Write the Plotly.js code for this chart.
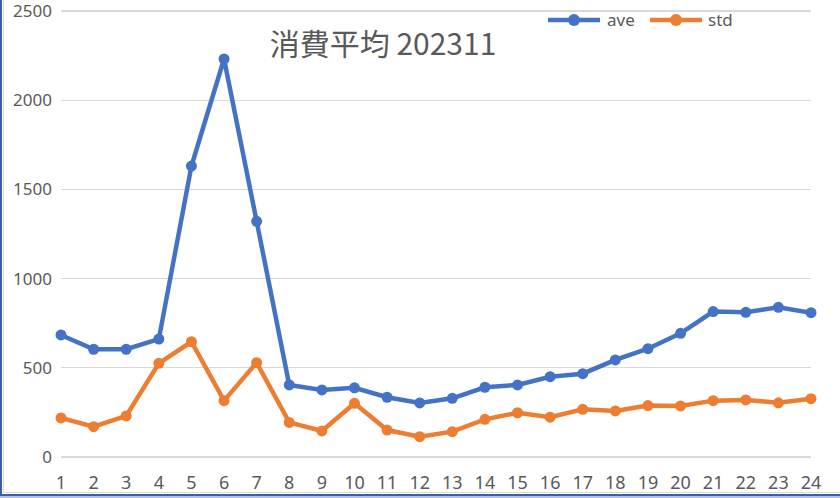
<!DOCTYPE html>
<html>
<head>
<meta charset="utf-8">
<script src="https://cdn.plot.ly/plotly-3.0.1.min.js"></script>
<style>
  html, body { margin: 0; padding: 0; background: #fff; }
  #wrap { position: relative; width: 840px; height: 498px; overflow: hidden; }
  #chart { position: absolute; left: 0; top: 0; width: 840px; height: 498px; }
  .edge { position: absolute; }
</style>
</head>
<body>
<div id="wrap">
  <div id="chart"></div>
  <div class="edge" style="left:0;top:0;width:2px;height:498px;background:#3B5EA6;"></div>
  <div class="edge" style="left:3px;top:0;width:1px;height:492px;background:#D9D9D9;"></div>
  <div class="edge" style="left:3px;top:492px;width:837px;height:1px;background:#D9D9D9;"></div>
  <div class="edge" style="left:0;top:494px;width:840px;height:2px;background:#3B5EA6;"></div>
  <div class="edge" style="left:0;top:496px;width:840px;height:2px;background:#AFC3E6;"></div>
</div>
<script>
const days = [1,2,3,4,5,6,7,8,9,10,11,12,13,14,15,16,17,18,19,20,21,22,23,24];
const aveValues = [684,604,604,661,1631,2231,1321,404,376,388,335,303,329,391,404,450,467,544,607,693,815,811,839,809];
const stdValues = [219,170,230,525,646,316,529,194,146,301,151,114,142,211,248,223,267,258,288,286,316,320,304,327];
const seriesNames = ['ave','std'];
const seriesColors = ['#4472C4','#ED7D31'];
const titleText = '消費平均 202311';
const yTicks = [0,500,1000,1500,2000,2500];

const traces = [aveValues, stdValues].map((vals, i) => ({
  type: 'scatter',
  mode: 'lines+markers',
  x: days,
  y: vals,
  name: seriesNames[i],
  line: { color: seriesColors[i], width: 4.5 },
  marker: { color: seriesColors[i], size: 11 },
  cliponaxis: false,
  showlegend: false,
  hoverinfo: 'x+y'
}));

// plot area: x 61..811, y 9..459 (2px vertical pad)
const L = 61, W = 750, B = 459, H = 450;
const px = v => (v - L) / W;
const py = v => (B - v) / H;
const legendItems = [
  { x0: 548, x1: 600, tx: 605 },
  { x0: 650, x1: 702, tx: 706 }
];
const shapes = [];
const annotations = [];
legendItems.forEach((it, i) => {
  shapes.push({ type: 'line', xref: 'paper', yref: 'paper',
    x0: px(it.x0), x1: px(it.x1), y0: py(20), y1: py(20),
    line: { color: seriesColors[i], width: 4.5 } });
  shapes.push({ type: 'circle', xref: 'paper', yref: 'paper',
    xsizemode: 'pixel', ysizemode: 'pixel',
    xanchor: px((it.x0 + it.x1) / 2), yanchor: py(20),
    x0: -6, x1: 6, y0: -6, y1: 6,
    fillcolor: seriesColors[i], line: { width: 0 } });
  annotations.push({ xref: 'paper', yref: 'paper', x: px(it.tx), y: py(19),
    xanchor: 'left', yanchor: 'middle', showarrow: false, text: seriesNames[i],
    font: { family: 'Noto Sans, sans-serif', size: 17, color: '#595959' } });
});

const yPad = 2 * 2500 / 446;   // 2 px in data units

const layout = {
  width: 840, height: 498,
  margin: { l: 61, r: 29, t: 9, b: 39 },
  paper_bgcolor: 'rgba(0,0,0,0)',
  plot_bgcolor: '#ffffff',
  title: {
    text: titleText,
    xref: 'container', yref: 'container',
    x: 383 / 840, xanchor: 'center',
    y: 1 - 44 / 498, yanchor: 'middle',
    font: { family: 'Noto Sans CJK JP, Noto Sans, sans-serif', size: 30, color: '#595959' }
  },
  xaxis: {
    range: [1, 24],
    tickvals: days,
    ticktext: days.map(String),
    showgrid: false, zeroline: false, showline: false,
    ticks: '',
    ticklabelstandoff: 11,
    ticklabeloverflow: 'allow',
    tickfont: { family: 'Noto Sans, sans-serif', size: 18, color: '#595959' },
    fixedrange: true
  },
  yaxis: {
    range: [-yPad, 2500 + yPad],
    tickvals: yTicks,
    showgrid: true, gridcolor: '#D9D9D9', gridwidth: 1.3,
    zeroline: false, showline: false,
    ticks: '',
    ticklabelstandoff: 8,
    ticklabeloverflow: 'allow',
    tickfont: { family: 'Noto Sans, sans-serif', size: 17, color: '#595959' },
    fixedrange: true
  },
  shapes: shapes,
  annotations: annotations,
  showlegend: false
};

Plotly.newPlot('chart', traces, layout, { displayModeBar: false, staticPlot: true });
</script>
</body>
</html>
